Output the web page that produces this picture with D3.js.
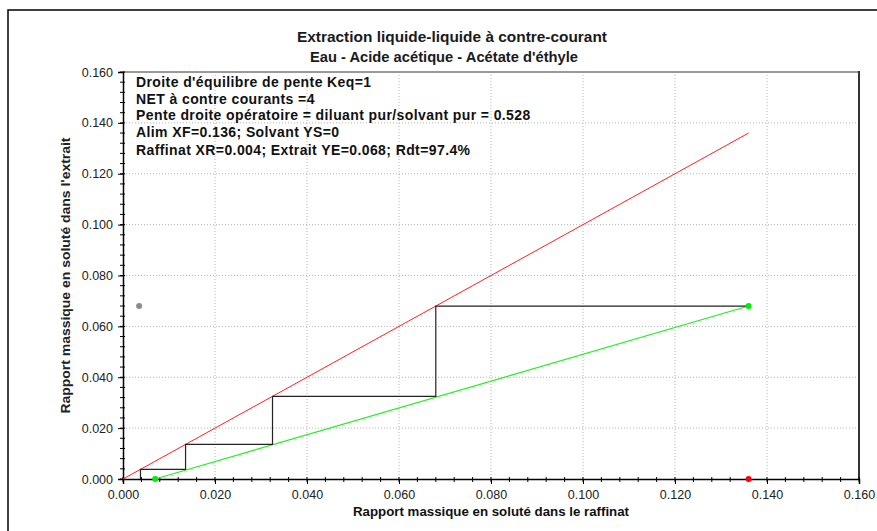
<!DOCTYPE html>
<html>
<head>
<meta charset="utf-8">
<script src="https://cdn.jsdelivr.net/npm/d3@7"></script>
<style>
  body { margin: 0; background: #fff; }
  svg { display: block; }
  .tick text { font-family: "Liberation Sans", Arial, sans-serif; font-size: 12.5px; fill: #222; }
</style>
</head>
<body>
<svg id="plot" width="877" height="531"></svg>
<script>
// chart values
const titles = ["Extraction liquide-liquide à contre-courant", "Eau - Acide acétique - Acétate d'éthyle"];
const titleWidths = [310, 268];
const notes = [
  "Droite d'équilibre de pente Keq=1",
  "NET à contre courants =4",
  "Pente droite opératoire = diluant pur/solvant pur = 0.528",
  "Alim XF=0.136; Solvant YS=0",
  "Raffinat XR=0.004; Extrait YE=0.068; Rdt=97.4%"
];
const xTitle = "Rapport massique en soluté dans le raffinat";
const yTitle = "Rapport massique en soluté dans l'extrait";
const majorTicks = [0, 0.02, 0.04, 0.06, 0.08, 0.10, 0.12, 0.14, 0.16];

// equilibrium line (red) and operating line (green)
const eqX = [0, 0.136];
const eqY = [0, 0.136];
const opX = [0.007, 0.136];
const opY = [0, 0.068];
// staircase (theoretical stages)
const stepX = [0.136, 0.068, 0.068, 0.0325, 0.0325, 0.0136, 0.0136, 0.0038, 0.0038];
const stepY = [0.068, 0.068, 0.0325, 0.0325, 0.0136, 0.0136, 0.0038, 0.0038, 0];
// points
const ptX = [0.0035, 0.007, 0.136, 0.136];
const ptY = [0.068, 0, 0.068, 0];
const ptColor = ["#8c8c8c", "#00ee00", "#00ee00", "#ff0000"];

const svg = d3.select("#plot");
const L = 123, R = 859, T = 72, B = 479;
const x = d3.scaleLinear().domain([0, 0.16]).range([L, R]);
const y = d3.scaleLinear().domain([0, 0.16]).range([B, T]);
const fmt = d3.format(".3f");
const minorTicks = d3.range(0, 41).map(i => i * 0.004);

// outer frame
svg.append("path")
  .attr("d", "M8,540 L8,10 L890,10")
  .attr("fill", "none").attr("stroke", "#000").attr("stroke-width", 1.5);

// titles
svg.selectAll("text.title").data(titles).enter().append("text")
  .attr("class", "title")
  .attr("x", (d, i) => [452, 444][i]).attr("y", (d, i) => 42 + i * 20)
  .attr("text-anchor", "middle")
  .attr("textLength", (d, i) => titleWidths[i])
  .attr("lengthAdjust", "spacingAndGlyphs")
  .style("font-family", "'Liberation Sans Narrow', 'Liberation Sans', Arial, sans-serif")
  .style("font-size", "14.5px").style("font-weight", "bold").style("fill", "#1a1a1a")
  .text(d => d);

// grid
const grid = svg.append("g");
grid.selectAll("line.gx").data(majorTicks.slice(1)).enter().append("line")
  .attr("x1", d => x(d)).attr("x2", d => x(d)).attr("y1", T).attr("y2", B)
  .attr("stroke", "#b4b4b4").attr("stroke-dasharray", "1,2");
grid.selectAll("line.gy").data(majorTicks.slice(1)).enter().append("line")
  .attr("y1", d => y(d)).attr("y2", d => y(d)).attr("x1", L).attr("x2", R)
  .attr("stroke", "#b4b4b4").attr("stroke-dasharray", "1,2");

// plot frame top/right
svg.append("line").attr("x1", L).attr("x2", R).attr("y1", T).attr("y2", T)
  .attr("stroke", "#999").attr("stroke-width", 2);
svg.append("line").attr("x1", R).attr("x2", R).attr("y1", T - 1).attr("y2", B)
  .attr("stroke", "#333").attr("stroke-width", 2);

// axes
const xAxis = svg.append("g").attr("transform", `translate(0,${B})`)
  .call(d3.axisBottom(x).tickValues(majorTicks).tickFormat(fmt).tickSize(5).tickPadding(6));
const yAxis = svg.append("g").attr("transform", `translate(${L},0)`)
  .call(d3.axisLeft(y).tickValues(majorTicks).tickFormat(fmt).tickSize(5).tickPadding(5));
[xAxis, yAxis].forEach(a => {
  a.select(".domain").attr("stroke", "#000").attr("stroke-width", 1.5);
  a.selectAll(".tick line").attr("stroke", "#000");
});
// minor ticks
svg.append("g").selectAll("line").data(minorTicks).enter().append("line")
  .attr("x1", d => x(d)).attr("x2", d => x(d)).attr("y1", B - 2).attr("y2", B + 3)
  .attr("stroke", "#000");
svg.append("g").selectAll("line").data(minorTicks).enter().append("line")
  .attr("y1", d => y(d)).attr("y2", d => y(d)).attr("x1", L - 3).attr("x2", L + 2)
  .attr("stroke", "#000");

// axis titles
svg.append("text")
  .attr("x", (L + R) / 2).attr("y", 516)
  .attr("text-anchor", "middle")
  .attr("textLength", 276).attr("lengthAdjust", "spacingAndGlyphs")
  .style("font-family", "'Liberation Sans', Arial, sans-serif")
  .style("font-size", "12px").style("font-weight", "bold").style("fill", "#111")
  .text(xTitle);
svg.append("text")
  .attr("transform", `translate(70,${(T + B) / 2}) rotate(-90)`)
  .attr("text-anchor", "middle")
  .attr("textLength", 276).attr("lengthAdjust", "spacingAndGlyphs")
  .style("font-family", "'Liberation Sans Narrow', 'Liberation Sans', Arial, sans-serif")
  .style("font-size", "12px").style("font-weight", "bold").style("fill", "#222")
  .text(yTitle);

// lines
const line = d3.line().x(d => x(d[0])).y(d => y(d[1]));
svg.append("path").datum(eqX.map((v, i) => [v, eqY[i]]))
  .attr("d", line).attr("fill", "none").attr("stroke", "#ff2020").attr("stroke-width", 1);
svg.append("path").datum(opX.map((v, i) => [v, opY[i]]))
  .attr("d", line).attr("fill", "none").attr("stroke", "#22ee22").attr("stroke-width", 1.2);
svg.append("path").datum(stepX.map((v, i) => [v, stepY[i]]))
  .attr("d", line).attr("fill", "none").attr("stroke", "#222").attr("stroke-width", 1.2);

// points
svg.selectAll("circle").data(ptX).enter().append("circle")
  .attr("cx", d => x(d)).attr("cy", (d, i) => y(ptY[i]))
  .attr("r", 3).attr("fill", (d, i) => ptColor[i]);

// notes
svg.selectAll("text.note").data(notes).enter().append("text")
  .attr("class", "note")
  .attr("x", 136).attr("y", (d, i) => [87, 104, 120, 137, 155][i])
  .style("font-family", "'Liberation Sans', Arial, sans-serif")
  .style("font-size", "14px").style("letter-spacing", "0.4px")
  .style("font-weight", "bold").style("fill", "#111")
  .text(d => d);
</script>
</body>
</html>
